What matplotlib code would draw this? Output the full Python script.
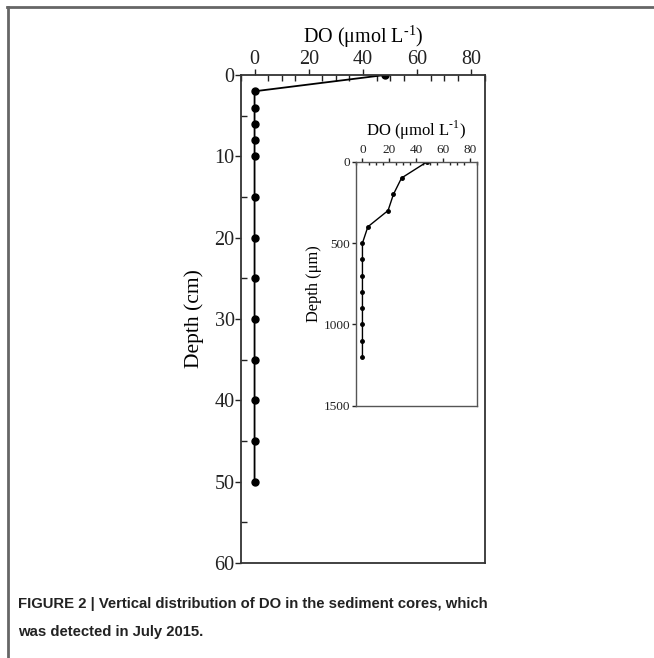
import matplotlib
matplotlib.use("Agg")
import matplotlib.pyplot as plt
from matplotlib.lines import Line2D
from matplotlib.ticker import MultipleLocator

# main profile (cm)
do_cm = [48, 0, 0, 0, 0, 0, 0, 0, 0, 0, 0, 0, 0, 0]
depth_cm = [0, 2, 4, 6, 8, 10, 15, 20, 25, 30, 35, 40, 45, 50]

# microprofile (um)
do_um = [48, 29, 23, 19, 4, 0, 0, 0, 0, 0, 0, 0, 0]
depth_um = [0, 100, 200, 300, 400, 500, 600, 700, 800, 900, 1000, 1100, 1200]

serif = "Liberation Serif"
label_txt = "DO (\u03bcmol L$^{\\mathregular{\u2010}1}$)"
plt.rcParams["mathtext.fontset"] = "custom"
plt.rcParams["mathtext.rm"] = serif

fig = plt.figure(figsize=(6.54, 6.58), dpi=100)


def style(ax, fs, major_len, minor_len, pad):
    ax.xaxis.set_ticks_position("top")
    ax.xaxis.set_label_position("top")
    ax.tick_params(which="major", direction="out", length=major_len, width=1,
                   labelsize=fs, pad=pad, colors="#222222")
    ax.tick_params(which="minor", direction="in", length=minor_len, width=1,
                   colors="#222222")
    for lab in ax.get_xticklabels() + ax.get_yticklabels():
        lab.set_family(serif)
    for s in ax.spines.values():
        s.set_color("#333333")
        s.set_linewidth(1.3)


ax = fig.add_axes([0.3685, 0.1444, 0.3731, 0.7416])
ax.plot(do_cm, depth_cm, color="black", lw=1.3, marker="o", ms=5)
ax.set_xlim(-5, 85)
ax.set_ylim(60, 0)
ax.xaxis.set_major_locator(MultipleLocator(20))
ax.xaxis.set_minor_locator(MultipleLocator(5))
ax.yaxis.set_major_locator(MultipleLocator(10))
ax.yaxis.set_minor_locator(MultipleLocator(5))
style(ax, 14.5, 4, 4, 0.5)
ax.set_xlabel(label_txt, fontsize=14.5, family=serif, labelpad=5)
ax.set_ylabel("Depth (cm)", fontsize=15.5, family=serif, labelpad=8)

ins = fig.add_axes([0.5439, 0.3834, 0.1855, 0.3708])
ins.plot(do_um, depth_um, color="black", lw=1.0, marker="o", ms=2.5)
ins.set_xlim(-5, 85)
ins.set_ylim(1500, 0)
ins.xaxis.set_major_locator(MultipleLocator(20))
ins.xaxis.set_minor_locator(MultipleLocator(5))
ins.yaxis.set_major_locator(MultipleLocator(500))
ins.yaxis.set_minor_locator(MultipleLocator(100))
style(ins, 9.5, 3, 2, 1)
ins.tick_params(axis="y", which="minor", length=0)
for s in ins.spines.values():
    s.set_linewidth(1.0)
    s.set_color("#555555")
ins.set_xlabel(label_txt, fontsize=12, family=serif, labelpad=6)
ins.set_ylabel("Depth (\u03bcm)", fontsize=11.8, family=serif, labelpad=1)

# page frame
fig.add_artist(Line2D([7 / 654, 1], [1 - 6.5 / 658] * 2, transform=fig.transFigure,
                      color="#666666", lw=2))
fig.add_artist(Line2D([7.5 / 654] * 2, [0, 1 - 6.5 / 658], transform=fig.transFigure,
                      color="#666666", lw=2))

cap = dict(fontsize=10.7, fontweight="bold", family="Liberation Sans",
           color="#222222", ha="left", va="center", transform=fig.transFigure)
fig.text(18 / 654, 1 - 604 / 658,
         "FIGURE 2 | Vertical distribution of DO in the sediment cores, which", **cap)
fig.text(18 / 654, 1 - 632 / 658, "was detected in July 2015.", **cap)

fig.savefig("out.png", dpi=100)
